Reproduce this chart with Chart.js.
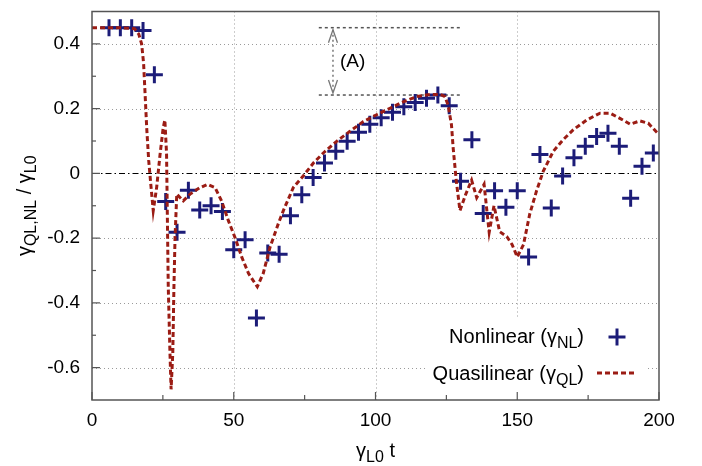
<!DOCTYPE html>
<html>
<head>
<meta charset="utf-8">
<script src="https://cdn.jsdelivr.net/npm/chart.js@4.4.1/dist/chart.umd.min.js"></script>
<style>
  html, body { margin: 0; padding: 0; background: #fff; }
  #wrap { width: 702px; height: 466px; }
</style>
</head>
<body>
<div id="wrap"><canvas id="chart" width="702" height="466"></canvas></div>
<script>
// Nonlinear growth rate (one sample every 4 time units)
const nlTimes = [6, 10, 14, 18, 22, 26, 30, 34, 38, 42, 46, 50, 54, 58, 62, 66, 70, 74, 78, 82,
                 86, 90, 94, 98, 102, 106, 110, 114, 118, 122, 126, 130, 134, 138, 142, 146, 150,
                 154, 158, 162, 166, 170, 174, 178, 182, 186, 190, 194, 198];
const nlRates = [0.45, 0.45, 0.45, 0.441, 0.305, -0.087, -0.182, -0.052, -0.113, -0.100, -0.118,
                 -0.236, -0.205, -0.447, -0.246, -0.25, -0.131, -0.066, -0.013, 0.032, 0.068, 0.099,
                 0.127, 0.152, 0.172, 0.189, 0.206, 0.219, 0.232, 0.242, 0.209, -0.024, 0.104, -0.124,
                 -0.054, -0.105, -0.054, -0.258, 0.058, -0.107, -0.008, 0.048, 0.084, 0.114, 0.124,
                 0.084, -0.077, 0.022, 0.063];

// Quasilinear growth rate (traced curve)
const qlTimes = [0, 10, 15, 16.5, 17.5, 18.2, 18.7, 19.3, 20, 20.7, 21.6, 22.8, 24, 25.1, 25.7,
                 26.3, 26.6, 26.9, 27.5, 27.9, 28.5, 28.9, 29.3, 29.9, 32.2, 34.6, 38.1, 40.7, 43.4,
                 45.7, 48.1, 50.4, 52.8, 55.2, 58.3, 60.4, 62.8, 65.7, 67.5, 71, 74.5, 78.1, 81.6,
                 86.3, 91, 95.7, 100.4, 105.1, 109.8, 114.5, 119.2, 122.8, 124.5, 125.6, 126.8,
                 127.4, 128.5, 129.8, 131.8, 133.9, 135.7, 138.3, 140.1, 141.8, 143.8, 146.3, 148.2,
                 150, 152.2, 154.4, 156.8, 159.2, 162.7, 166.2, 169.8, 174.5, 179.2, 182.7, 186.2,
                 189.8, 193.3, 196.2, 199.2, 200];
const qlRates = [0.45, 0.45, 0.447, 0.43, 0.40, 0.34, 0.25, 0.14, 0.04, -0.03, -0.115, -0.044,
                 0.058, 0.14, 0.165, 0.06, -0.146, -0.35, -0.554, -0.667, -0.554, -0.35, -0.197,
                 -0.064, -0.085, -0.064, -0.044, -0.034, -0.044, -0.085, -0.146, -0.197, -0.258,
                 -0.309, -0.350, -0.309, -0.228, -0.156, -0.115, -0.044, -0.008, 0.032, 0.063, 0.099,
                 0.13, 0.16, 0.181, 0.201, 0.221, 0.237, 0.244, 0.244, 0.237, 0.211, 0.15, 0.078,
                 -0.024, -0.115, -0.065, -0.021, -0.075, -0.034, -0.182, -0.10, -0.18, -0.195, -0.22,
                 -0.258, -0.22, -0.126, -0.054, 0.007, 0.068, 0.104, 0.135, 0.165, 0.186, 0.186,
                 0.170, 0.152, 0.162, 0.155, 0.127, 0.12];

// Axis ticks
const xTicks = [0, 50, 100, 150, 200];
const xMinorTicks = [25, 75, 125, 175];
const yTicks = [-0.6, -0.4, -0.2, 0, 0.2, 0.4];
const yMinorTicks = [-0.5, -0.3, -0.1, 0.1, 0.3];

// Marked amplitude (A)
const markSpan = [80, 130];
const markLevels = [0.45, 0.242];
const markArrowAt = 85;

const FONT = '"Liberation Sans", Arial, Helvetica, sans-serif';
const NL_COLOR = '#1c1c78';
const QL_COLOR = '#9b1c14';
const AXIS_COLOR = '#555';

function line(ctx, x1, y1, x2, y2) {
    ctx.beginPath();
    ctx.moveTo(x1, y1);
    ctx.lineTo(x2, y2);
    ctx.stroke();
}

// text with subscripts: parts = [[text, isSub], ...]
function drawRich(ctx, parts, x, baseline, align) {
    const main = '20px ' + FONT, sub = '16px ' + FONT;
    let total = 0;
    parts.forEach(p => { ctx.font = p[1] ? sub : main; total += ctx.measureText(p[0]).width; });
    let cx = align === 'right' ? x - total : align === 'center' ? x - total / 2 : x;
    ctx.textAlign = 'left';
    ctx.textBaseline = 'alphabetic';
    parts.forEach(p => {
        ctx.font = p[1] ? sub : main;
        ctx.fillText(p[0], cx, baseline + (p[1] ? 5 : 0));
        cx += ctx.measureText(p[0]).width;
    });
}

const frame = {
    id: 'frame',
    beforeDatasetsDraw(chart) {
        const { ctx, chartArea: a, scales: { x, y } } = chart;
        ctx.save();
        // dotted grid
        ctx.strokeStyle = '#9a9a9a';
        ctx.lineWidth = 1;
        ctx.setLineDash([1, 3]);
        xTicks.forEach(v => {
            if (v <= x.min || v >= x.max) return;
            const px = Math.round(x.getPixelForValue(v)) + 0.5;
            line(ctx, px, a.top, px, a.bottom);
        });
        yTicks.forEach(v => {
            if (v === 0) return;
            const py = Math.round(y.getPixelForValue(v)) + 0.5;
            line(ctx, a.left, py, a.right, py);
        });
        // legend background
        ctx.fillStyle = '#fff';
        ctx.fillRect(a.right - 231, a.bottom - 83, 218, 82);
        // zero line
        ctx.strokeStyle = '#000';
        ctx.setLineDash([6, 3, 1.5, 3]);
        const y0 = Math.round(y.getPixelForValue(0)) + 0.5;
        line(ctx, a.left, y0, a.right, y0);
        // (A) marks
        ctx.strokeStyle = '#555';
        ctx.lineWidth = 1.5;
        ctx.setLineDash([3, 3]);
        const xa = x.getPixelForValue(markSpan[0]), xb = x.getPixelForValue(markSpan[1]);
        const yTop = y.getPixelForValue(markLevels[0]), yBot = y.getPixelForValue(markLevels[1]);
        line(ctx, xa, yTop, xb, yTop);
        line(ctx, xa, yBot, xb, yBot);
        const ax = x.getPixelForValue(markArrowAt);
        ctx.strokeStyle = '#777';
        ctx.setLineDash([2, 3]);
        line(ctx, ax, yTop + 2, ax, yBot - 2);
        ctx.setLineDash([]);
        ctx.lineWidth = 1.3;
        ctx.beginPath();
        ctx.moveTo(ax - 4.5, yTop + 15); ctx.lineTo(ax, yTop + 2); ctx.lineTo(ax + 4.5, yTop + 15);
        ctx.moveTo(ax - 4.5, yBot - 15); ctx.lineTo(ax, yBot - 2); ctx.lineTo(ax + 4.5, yBot - 15);
        ctx.stroke();
        ctx.fillStyle = '#000';
        ctx.font = '19px ' + FONT;
        ctx.textAlign = 'left';
        ctx.textBaseline = 'middle';
        ctx.fillText('(A)', ax + 7, (yTop + yBot) / 2);
        ctx.restore();
    },
    afterDatasetsDraw(chart) {
        const { ctx, chartArea: a, scales: { x, y } } = chart;
        ctx.save();
        // border
        ctx.strokeStyle = AXIS_COLOR;
        ctx.lineWidth = 1.5;
        ctx.strokeRect(a.left, a.top, a.right - a.left, a.bottom - a.top);
        // inward ticks on left and bottom
        ctx.lineWidth = 1.2;
        yTicks.forEach(v => { const py = y.getPixelForValue(v); line(ctx, a.left, py, a.left + 8, py); });
        yMinorTicks.forEach(v => { const py = y.getPixelForValue(v); line(ctx, a.left, py, a.left + 4, py); });
        xTicks.forEach(v => { const px = x.getPixelForValue(v); line(ctx, px, a.bottom, px, a.bottom - 8); });
        xMinorTicks.forEach(v => { const px = x.getPixelForValue(v); line(ctx, px, a.bottom, px, a.bottom - 5); });

        // legend
        ctx.fillStyle = '#000';
        drawRich(ctx, [['Nonlinear (', false], ['\u03b3', false], ['NL', true], [')', false]],
            a.right - 75, a.bottom - 57, 'right');
        drawRich(ctx, [['Quasilinear (', false], ['\u03b3', false], ['QL', true], [')', false]],
            a.right - 75, a.bottom - 20.5, 'right');
        const mx = a.right - 42, my = a.bottom - 63;
        ctx.strokeStyle = NL_COLOR;
        ctx.lineWidth = 3;
        line(ctx, mx - 8.5, my, mx + 8.5, my);
        line(ctx, mx, my - 8.5, mx, my + 8.5);
        ctx.strokeStyle = QL_COLOR;
        ctx.setLineDash([5, 3]);
        line(ctx, a.right - 62, a.bottom - 27, a.right - 23, a.bottom - 27);
        ctx.setLineDash([]);

        // axis titles
        ctx.fillStyle = '#000';
        drawRich(ctx, [['\u03b3', false], ['L0', true], [' t', false]],
            (a.left + a.right) / 2, a.bottom + 57, 'center');
        ctx.translate(31, (a.top + a.bottom) / 2);
        ctx.rotate(-Math.PI / 2);
        drawRich(ctx, [['\u03b3', false], ['QL,NL', true], [' / ', false], ['\u03b3', false], ['L0', true]],
            0, 0, 'center');
        ctx.restore();
    }
};

const ctx = document.getElementById('chart').getContext('2d');
new Chart(ctx, {
    type: 'scatter',
    data: {
        datasets: [{
            label: 'Quasilinear',
            data: qlTimes.map((t, i) => ({ x: t, y: qlRates[i] })),
            showLine: true,
            borderColor: QL_COLOR,
            borderWidth: 3,
            borderDash: [5, 3],
            pointRadius: 0,
            tension: 0,
            fill: false,
            order: 1
        }, {
            label: 'Nonlinear',
            data: nlTimes.map((t, i) => ({ x: t, y: nlRates[i] })),
            showLine: false,
            pointStyle: 'cross',
            pointRadius: 8.5,
            pointBorderWidth: 3,
            borderColor: NL_COLOR,
            backgroundColor: NL_COLOR,
            order: 2
        }]
    },
    options: {
        responsive: false,
        animation: false,
        events: [],
        layout: { padding: { left: 0, top: 8, right: 43, bottom: 0 } },
        plugins: { legend: { display: false }, tooltip: { enabled: false } },
        scales: {
            x: {
                type: 'linear',
                min: 0,
                max: 200,
                grid: { display: false, drawTicks: false },
                border: { display: false },
                afterBuildTicks: s => { s.ticks = xTicks.map(v => ({ value: v })); },
                afterFit: s => { s.height = 66; s.paddingLeft = 0; s.paddingRight = 0; },
                ticks: {
                    padding: 9,
                    color: '#000',
                    maxRotation: 0,
                    autoSkip: false,
                    font: { family: FONT, size: 19 },
                    callback: v => String(v)
                }
            },
            y: {
                type: 'linear',
                min: -0.7,
                max: 0.5,
                grid: { display: false, drawTicks: false },
                border: { display: false },
                afterBuildTicks: s => { s.ticks = yTicks.map(v => ({ value: v })); },
                afterFit: s => { s.width = 92; s.paddingTop = 0; s.paddingBottom = 0; },
                ticks: {
                    padding: 12,
                    color: '#000',
                    autoSkip: false,
                    font: { family: FONT, size: 19 },
                    callback: v => (Math.abs(v) < 1e-9 ? '0' : v.toFixed(1))
                }
            }
        }
    },
    plugins: [frame]
});
</script>
</body>
</html>
